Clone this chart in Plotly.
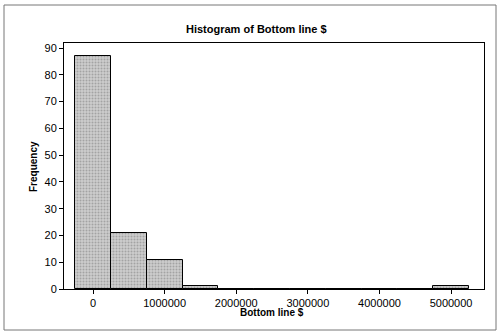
import plotly.graph_objects as go

bin_centers = [0, 500000, 1000000, 1500000, 2000000, 2500000, 3000000, 3500000, 4000000, 4500000, 5000000]
counts = [87, 21, 11, 1, 0, 0, 0, 0, 0, 0, 1]
bin_width = 500000
x_ticks = [0, 1000000, 2000000, 3000000, 4000000, 5000000]
y_ticks = [0, 10, 20, 30, 40, 50, 60, 70, 80, 90]

font_family = "Liberation Sans, Arial, sans-serif"

L, R, T, B = 64, 15, 43, 44
W, H = 499, 333
pw, ph = W - L - R, H - T - B

def px(x):
    return (x - L) / pw

def py(y):
    return (H - B - y) / ph

fig = go.Figure()
fig.add_trace(go.Bar(
    x=bin_centers, y=counts, width=bin_width,
    marker=dict(color="#c4c4c4", line=dict(color="black", width=1),
                pattern=dict(shape=".", fgcolor="#7a7a7a", bgcolor="#cdcdcd", size=3, solidity=0.35)),
    showlegend=False,
))

fig.update_layout(
    width=W, height=H,
    margin=dict(l=L, r=R, t=T, b=B),
    paper_bgcolor="white", plot_bgcolor="white",
    font=dict(family=font_family, size=11, color="black"),
    bargap=0,
    xaxis=dict(range=[-405000, 5460000], tickvals=x_ticks, ticktext=[str(v) for v in x_ticks],
               ticks="outside", ticklen=4, tickcolor="black", showgrid=False, zeroline=False,
               showline=True, linecolor="black", linewidth=1, mirror=True, automargin=False),
    yaxis=dict(range=[0, 91.9], tickvals=y_ticks, ticks="outside", ticklen=4, tickcolor="black",
               showgrid=False, zeroline=False, showline=True, linecolor="black", linewidth=1,
               mirror=True, automargin=False),
    annotations=[
        dict(text="<b>Histogram of Bottom line $</b>", xref="paper", yref="paper",
             x=px(256), y=py(29), showarrow=False, xanchor="center", yanchor="middle",
             font=dict(size=11)),
        dict(text="<b>Bottom line $</b>", xref="paper", yref="paper",
             x=px(272), y=py(312), showarrow=False, xanchor="center", yanchor="middle",
             font=dict(size=10)),
        dict(text="<b>Frequency</b>", xref="paper", yref="paper", textangle=-90,
             x=px(33), y=py(167), showarrow=False, xanchor="center", yanchor="middle",
             font=dict(size=10)),
    ],
)

fig.add_shape(type="rect", xref="paper", yref="paper",
              x0=px(4), x1=px(496), y0=py(330), y1=py(5),
              line=dict(color="#777777", width=1), layer="below")

fig.write_html("out.html", config={"displayModeBar": False},
               post_script="document.body.style.margin='0';document.body.style.overflow='hidden';")
